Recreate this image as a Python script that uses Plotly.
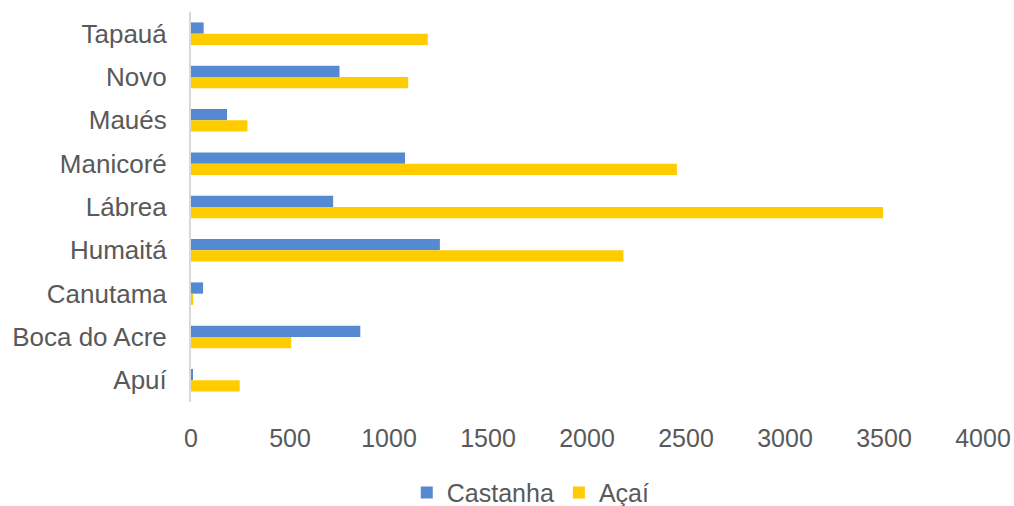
import plotly.graph_objects as go

categories = ["Tapauá", "Novo", "Maués", "Manicoré", "Lábrea", "Humaitá", "Canutama", "Boca do Acre", "Apuí"]
castanha = [64, 750, 182, 1081, 718, 1257, 61, 855, 8]
acai = [1196, 1097, 285, 2454, 3495, 2184, 11, 506, 246]
x_ticks = [0, 500, 1000, 1500, 2000, 2500, 3000, 3500, 4000]

font_family = "Liberation Sans, Arial, sans-serif"
grey = "#595959"

fig = go.Figure()
fig.add_trace(go.Bar(y=categories, x=castanha, name="Castanha", orientation="h",
                     marker=dict(color="#558AD2", line=dict(width=0))))
fig.add_trace(go.Bar(y=categories, x=acai, name="Açaí", orientation="h",
                     marker=dict(color="#FFCC00", line=dict(width=0))))

fig.update_layout(
    width=1014, height=506,
    margin=dict(l=191, r=31, t=12, b=104, autoexpand=False),
    paper_bgcolor="white", plot_bgcolor="white",
    barmode="group", bargap=0.48, bargroupgap=0,
    font=dict(family=font_family, size=25, color=grey),
    showlegend=True,
    legend=dict(orientation="h", x=0.429, xanchor="center", y=-0.233, yanchor="middle",
                font=dict(size=25, color=grey), itemwidth=30),
    xaxis=dict(range=[0, 4000], tickvals=x_ticks, ticktext=[str(v) for v in x_ticks],
               showgrid=False, zeroline=False, showline=False, ticks="",
               automargin=False,
               ticklabelstandoff=19, tickfont=dict(size=25, color=grey)),
    yaxis=dict(autorange="reversed", showgrid=False, zeroline=False,
               automargin=False,
               showline=True, linecolor="#D9D9D9", linewidth=2, ticks="",
               ticklabelstandoff=17, tickfont=dict(size=26, color=grey)),
)

fig.write_html("out.html")
